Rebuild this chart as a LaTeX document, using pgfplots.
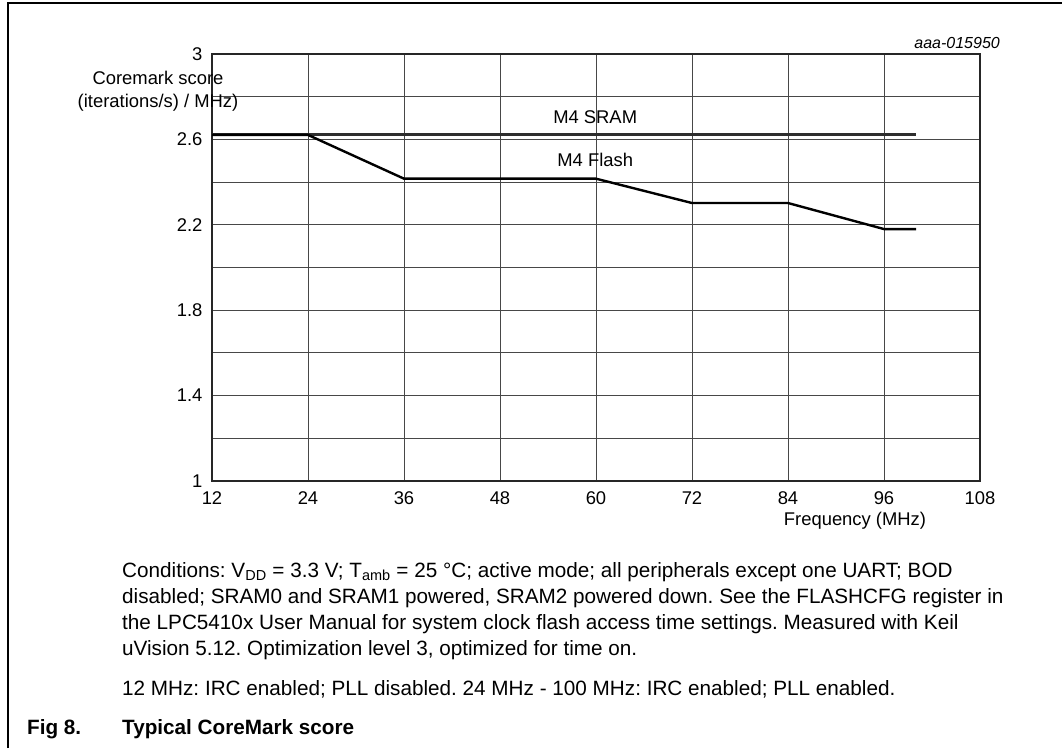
\documentclass[border=0pt]{standalone}
\usepackage{fontspec}
\setmainfont{Liberation Sans}
\usepackage{pgfplots}
\pgfplotsset{compat=1.18}
\frenchspacing
\newcommand{\cf}{\fontsize{20.7}{26}\selectfont}
\newcommand{\af}{\fontsize{18.4}{22}\selectfont}
\begin{document}
\begin{tikzpicture}[x=1pt,y=1pt]
\useasboundingbox (0,0) rectangle (1062,748);
\draw[line width=2pt] (8,0) -- (8,745) -- (1062,745);
\begin{axis}[
  at={(212pt,267pt)}, anchor=south west,
  scale only axis, width=768pt, height=427pt,
  xmin=12, xmax=108, ymin=1, ymax=3,
  xtick={12,24,36,48,60,72,84,96,108},
  ytick={1,1.4,1.8,2.2,2.6,3},
  minor ytick={1.2,1.6,2,2.4,2.8},
  grid=both,
  major grid style={black!72, line width=1pt},
  minor grid style={black!72, line width=1pt},
  axis line style={black!85, line width=1.3pt},
  major tick length=0pt, minor tick length=0pt,
  tick label style={font=\af},
  /pgf/number format/assume math mode=true,
  yticklabel style={xshift=-6pt},
  xticklabel style={yshift=-7pt},
  clip=false,
]
\addplot[draw=black!82, line width=3pt] coordinates {(12,2.622) (100,2.622)};
\addplot[draw=black, line width=2.4pt] coordinates {
 (12,2.621) (24,2.621) (36,2.416) (48,2.416) (60,2.416) (72,2.302) (84,2.302) (96,2.18) (100,2.18)};
\node[font=\af] at (axis cs:59.9,2.706) {M4 SRAM};
\node[font=\af] at (axis cs:59.9,2.505) {M4 Flash};
\end{axis}
\node[font=\af, anchor=base, inner sep=0pt] at (158,663.4) {Coremark score};
\node[font=\af, anchor=base, inner sep=0pt] at (158,640.4) {(iterations/s) / MHz)};
\node[font=\af, anchor=base, inner sep=0pt] at (855,223) {Frequency (MHz)};
\node[font=\fontsize{16}{18}\selectfont\itshape, anchor=base east, inner sep=0pt] at (1000,699.3) {aaa-015950};
\node[font=\cf, anchor=base west, inner sep=0pt] at (122,171) {Conditions: V\textsubscript{DD} = 3.3 V; T\textsubscript{amb} = 25 °C; active mode; all peripherals except one UART; BOD};
\node[font=\cf, anchor=base west, inner sep=0pt] at (122,145) {disabled; SRAM0 and SRAM1 powered, SRAM2 powered down. See the FLASHCFG register in};
\node[font=\cf, anchor=base west, inner sep=0pt] at (122,119) {the LPC5410x User Manual for system clock flash access time settings. Measured with Keil};
\node[font=\cf, anchor=base west, inner sep=0pt] at (122,93) {uVision 5.12. Optimization level 3, optimized for time on.};
\node[font=\cf, anchor=base west, inner sep=0pt] at (122,53) {12 MHz: IRC enabled; PLL disabled. 24 MHz - 100 MHz: IRC enabled; PLL enabled.};
\node[font=\cf\bfseries, anchor=base west, inner sep=0pt] at (27,14) {Fig 8.};
\node[font=\cf\bfseries, anchor=base west, inner sep=0pt] at (122,14) {Typical CoreMark score};
\end{tikzpicture}
\end{document}
